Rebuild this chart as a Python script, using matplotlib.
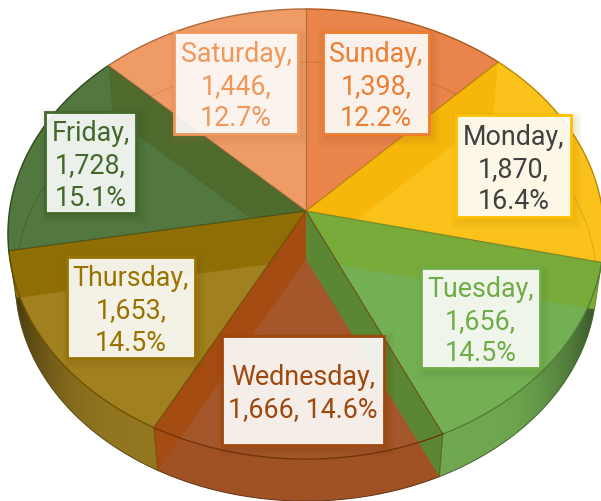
import numpy as np
import matplotlib
matplotlib.use("Agg")
import matplotlib.pyplot as plt
from matplotlib.patches import Polygon, Rectangle

days = ["Sunday", "Monday", "Tuesday", "Wednesday", "Thursday", "Friday", "Saturday"]
values = [1398, 1870, 1656, 1666, 1653, 1728, 1446]
percents = ["12.2%", "16.4%", "14.5%", "14.6%", "14.5%", "15.1%", "12.7%"]
base_colors = ["#ED7D31", "#FFC000", "#70AD47", "#9E480E", "#997300", "#43682B", "#F1975A"]
face_colors = ["#E9844A", "#FBC21C", "#73B054", "#A3572A", "#A0801F", "#527840", "#EF9B66"]
text_colors = ["#ED7D31", "#404040", "#70AD47", "#9E480E", "#997300", "#43682B", "#F1975A"]
side_colors = ["#ED7D31", "#FFC000", "#6FA850", "#A05224", "#937620", "#43682B", "#F1975A"]
# wall seen through the top at the boundary after each slice, and the slice it shows in
wall_colors = ["#F6B70A", "#78AB3A", "#5B8633", "#A54C12", "#8F6E05", "#4E6A2C", None]
wall_slices = [1, 2, 3, 3, 4, 5, 6]
label_lines = [
    ["Sunday,", "1,398,", "12.2%"],
    ["Monday,", "1,870,", "16.4%"],
    ["Tuesday,", "1,656,", "14.5%"],
    ["Wednesday,", "1,666, 14.6%"],
    ["Thursday,", "1,653,", "14.5%"],
    ["Friday,", "1,728,", "15.1%"],
    ["Saturday,", "1,446,", "12.7%"],
]
# label boxes: left, top, right, bottom in pixels
label_boxes = [
    (323, 33, 429, 135), (456, 116, 571, 218), (421, 269, 540, 369), (222, 337, 384, 446),
    (67, 258, 195, 359), (45, 113, 136, 214), (174, 33, 298, 135),
]

W, H = 601, 502
CX, CY, A, S, K = 306.0, 212.0, 296.5, 222.7, 0.1023
DEPTH, SHRINK = 48.2, 0.975

fig = plt.figure(figsize=(W / 100, H / 100), dpi=100)
ax = fig.add_axes([0, 0, 1, 1])


def proj(theta, lower=False):
    theta = np.asarray(theta, dtype=float)
    u, v = np.sin(theta), np.cos(theta)
    w = 1 + K * v
    x, y = A * u / w, -S * v / w
    if lower:
        return np.column_stack([CX + SHRINK * x, CY + DEPTH + SHRINK * y])
    return np.column_stack([CX + x, CY + y])


edges = np.concatenate([[0], np.cumsum(values)]) / np.sum(values) * 2 * np.pi
apex = np.array([[CX, CY]])
apex_low = np.array([[CX, CY + DEPTH]])


def darken(c, f):
    return tuple(np.clip(np.array(matplotlib.colors.to_rgb(c)) * f, 0, 1))


# side faces: shading falls off towards the silhouette
xs = np.linspace(0, W, 301)
shade = 1 - 0.5 * np.clip((np.abs(xs - CX) / 298 - 0.6) / 0.38, 0, 1.1) ** 2.2
for i in range(len(values)):
    ts = np.linspace(edges[i], edges[i + 1], 120)
    side = Polygon(np.vstack([proj(ts), proj(ts[::-1], lower=True)]), closed=True, fc="none", ec="none",
                   transform=ax.transData)
    ax.add_patch(side)
    grad = np.outer(shade, np.array(matplotlib.colors.to_rgb(side_colors[i])))[None, :, :]
    im = ax.imshow(np.clip(grad, 0, 1), extent=(0, W, H, 0), aspect="auto", interpolation="bilinear", zorder=1)
    im.set_clip_path(side)
    low = proj(ts, lower=True)
    ax.plot(low[:, 0], low[:, 1], color=darken(side_colors[i], 0.6), lw=0.7, zorder=1.5)

ax.set_xlim(0, W)
ax.set_ylim(H, 0)
ax.axis("off")

# top faces
tops = []
for i in range(len(values)):
    ts = np.linspace(edges[i], edges[i + 1], 90)
    poly = Polygon(np.vstack([apex, proj(ts)]), closed=True, fc=face_colors[i], ec="none", zorder=2)
    ax.add_patch(poly)
    tops.append(poly)

# the lower rim, seen faintly through the top
for i in range(len(values)):
    ts = np.linspace(edges[i], edges[i + 1], 90)
    low = proj(ts, lower=True)
    line, = ax.plot(low[:, 0], low[:, 1], color=darken(base_colors[i], 0.75), lw=0.8, alpha=0.4, zorder=2.2)
    line.set_clip_path(tops[i])

# walls between slices, kept inside the wedge of the slice they show through
for i, col in enumerate(wall_colors):
    if col is None:
        continue
    t = edges[i + 1]
    s = wall_slices[i]
    quad = np.vstack([apex, proj([t]), proj([t], lower=True), apex_low])
    patch = Polygon(quad, closed=True, fc=col, ec="none", zorder=3)
    ax.add_patch(patch)
    ts = np.linspace(edges[s], edges[s + 1], 60)
    wedge = Polygon(np.vstack([apex, apex + 1.5 * (proj(ts) - apex)]), closed=True, fc="none", ec="none",
                    transform=ax.transData)
    ax.add_patch(wedge)
    patch.set_clip_path(wedge)

# rims and radial edges
for i in range(len(values)):
    ts = np.linspace(edges[i], edges[i + 1], 90)
    rim = proj(ts)
    edge = darken(base_colors[i], 0.72)
    ax.plot(rim[:, 0], rim[:, 1], color=edge, lw=1.0, zorder=4)
    for t in (edges[i], edges[i + 1]):
        p = proj([t])[0]
        ax.plot([CX, p[0]], [CY, p[1]], color=edge, lw=0.8, alpha=0.6, zorder=4)
        pl = proj([t], lower=True)[0]
        if np.cos(t) < 0.2:
            ax.plot([p[0], pl[0]], [p[1], pl[1]], color=edge, lw=0.7, alpha=0.5, zorder=4)

# labels
for i in range(len(values)):
    x0, y0, x1, y1 = label_boxes[i]
    for grow, a in zip((8, 6, 4, 2), (0.03, 0.04, 0.05, 0.06)):
        ax.add_patch(Rectangle((x0 + 3 - grow, y0 + 4 - grow), x1 - x0 + 2 * grow, y1 - y0 + 2 * grow,
                               fc=darken(base_colors[i], 0.7), ec="none", alpha=a, zorder=5))
    ax.add_patch(Rectangle((x0, y0), x1 - x0, y1 - y0, fc="white", alpha=0.9, ec="none", zorder=6))
    ax.add_patch(Rectangle((x0, y0), x1 - x0, y1 - y0, fc="none", ec=base_colors[i], lw=2.0, zorder=7))
    ax.text((x0 + x1) / 2, (y0 + y1) / 2 + 2.5, "\n".join(label_lines[i]), ha="center", va="center",
            family="Roboto", fontsize=19.4, linespacing=1.24, color=text_colors[i], zorder=8)

fig.savefig("out.png", dpi=100)
